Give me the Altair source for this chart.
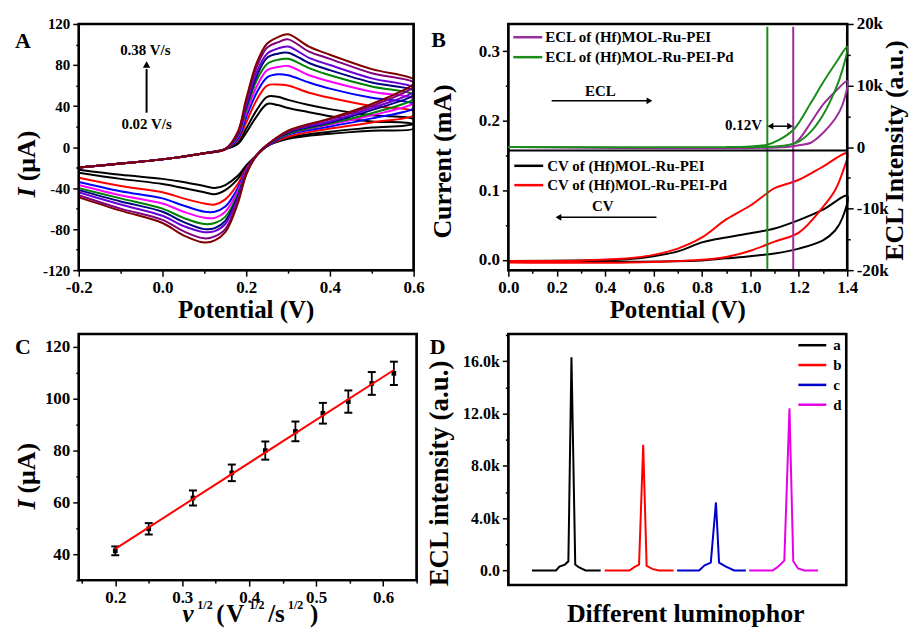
import altair as alt
import pandas as pd

FONT = "Liberation Serif"

# ---------------- Panel A : CV at different scan rates ----------------
A_E_FWD = [-0.2, -0.1, 0.0, 0.1, 0.15, 0.18, 0.2, 0.225, 0.25, 0.275, 0.3, 0.35, 0.4, 0.5, 0.6]
A_E_REV = [0.6, 0.5, 0.4, 0.3, 0.25, 0.225, 0.2, 0.18, 0.15, 0.125, 0.1, 0.05, 0.0, -0.1, -0.2]
A_COLORS = ["#000000", "#000000", "#ff0000", "#0000ff", "#ff00ff",
            "#008000", "#00007f", "#6a00d5", "#800080", "#800000"]
A_FWD = [
    [-20, -16, -12, -6, -2, 3, 14, 30, 42, 41, 38, 34, 30, 25, 22],
    [-20, -16, -12, -6, -2, 4, 18, 36, 49, 49, 46, 41, 37, 31, 27],
    [-20, -16, -12, -6, -2, 7, 24, 46, 60, 61, 60, 53, 48, 40, 35],
    [-20, -16, -12, -6, -2, 8, 29, 53, 68, 71, 70, 63, 57, 48, 42],
    [-20, -16, -12, -6, -2, 10, 33, 59, 75, 78, 79, 70, 64, 54, 47],
    [-20, -16, -12, -6, -2, 11, 36, 65, 81, 85, 86, 77, 70, 59, 51],
    [-20, -16, -12, -6, -2, 12, 39, 69, 87, 91, 92, 82, 75, 63, 55],
    [-20, -16, -12, -6, -2, 13, 41, 73, 91, 96, 98, 87, 80, 67, 58],
    [-20, -16, -12, -6, -2, 14, 45, 78, 97, 102, 105, 93, 86, 72, 63],
    [-20, -16, -12, -6, -2, 15, 47, 82, 101, 107, 110, 98, 90, 76, 66],
]
A_REV = [
    [18, 16, 13, 8, 1, -8, -18, -28, -37, -40, -38, -34, -31, -27, -22],
    [23, 19, 15, 9, 1, -8, -19, -31, -42, -46, -44, -40, -36, -31, -25],
    [31, 24, 18, 10, 1, -8, -21, -36, -51, -56, -55, -50, -44, -38, -30],
    [38, 28, 20, 12, 1, -8, -22, -40, -58, -63, -63, -57, -50, -43, -34],
    [43, 31, 22, 13, 2, -8, -23, -43, -63, -69, -69, -63, -55, -47, -37],
    [47, 33, 23, 13, 2, -8, -24, -46, -68, -74, -75, -69, -60, -50, -40],
    [51, 36, 24, 14, 2, -8, -25, -48, -72, -79, -80, -73, -63, -53, -42],
    [54, 38, 25, 15, 2, -8, -25, -50, -75, -82, -83, -77, -67, -56, -44],
    [59, 40, 27, 15, 2, -8, -26, -53, -80, -87, -89, -82, -71, -60, -47],
    [62, 42, 28, 16, 2, -8, -27, -55, -83, -91, -93, -86, -74, -62, -49],
]

# ---------------- Panel B : CV + ECL ----------------
B_CV_PEI_E = [0, 0.4, 0.8, 0.9, 1.0, 1.1, 1.2, 1.3, 1.35, 1.38, 1.4,
              1.3, 1.2, 1.1, 1.0, 0.9, 0.85, 0.8, 0.7, 0.6, 0.5, 0.3, 0.0]
B_CV_PEI_I = [-0.003, -0.003, -0.001, 0.002, 0.005, 0.009, 0.016, 0.028, 0.042, 0.06, 0.092,
              0.072, 0.057, 0.045, 0.038, 0.032, 0.029, 0.025, 0.012, 0.005, 0.001, -0.001, -0.002]
B_CV_PD_E = [0, 0.5, 0.8, 0.9, 1.0, 1.1, 1.2, 1.3, 1.35, 1.38, 1.4,
             1.3, 1.2, 1.1, 1.07, 1.0, 0.9, 0.8, 0.7, 0.6, 0.5, 0.3, 0.0]
B_CV_PD_I = [-0.004, -0.004, 0.0, 0.004, 0.013, 0.026, 0.039, 0.076, 0.1, 0.125, 0.153,
             0.134, 0.115, 0.103, 0.096, 0.078, 0.058, 0.032, 0.016, 0.007, 0.002, -0.001, -0.002]
B_ECL_PEI_E = [0, 1.15, 1.2, 1.25, 1.3, 1.35, 1.38, 1.4, 1.35, 1.3, 1.25, 1.2, 1.17]
B_ECL_PEI_V = [0, 0, 300, 700, 2300, 4600, 6800, 10700, 9000, 6900, 4000, 1200, 300]
B_ECL_PD_E = [0, 0.9, 1.07, 1.15, 1.2, 1.25, 1.3, 1.35, 1.38, 1.4,
              1.35, 1.3, 1.25, 1.18, 1.12, 1.07, 1.0, 0.9]
B_ECL_PD_V = [0, 0, 50, 300, 900, 2500, 5200, 9200, 12500, 16300,
              13500, 10500, 7200, 2900, 1200, 400, 100, 0]
B_SERIES_COLORS = {"cv_pei": "#000000", "cv_pd": "#ff0000",
                   "ecl_pei": "#9b2d9b", "ecl_pd": "#1a8c1a"}
B_VLINE_E = [1.07, 1.177]
B_VLINE_COLORS = ["#1a8c1a", "#9b2d9b"]

# ---------------- Panel C : peak current vs v^1/2 ----------------
C_X = [0.2, 0.25, 0.316, 0.374, 0.424, 0.469, 0.51, 0.548, 0.583, 0.616]
C_I = [41.3, 49.8, 61.7, 71.4, 80.0, 87.4, 94.4, 98.9, 105.9, 109.8]
C_ERR = [1.7, 2.2, 2.9, 3.2, 3.5, 3.8, 4.0, 4.3, 4.4, 4.5]

# ---------------- Panel D : ECL of different luminophors ----------------
D_X = {
    "a": [0.343, 0.693, 0.743, 0.823, 0.873, 0.918, 0.973, 1.023, 1.123, 1.343],
    "b": [1.401, 1.761, 1.831, 1.901, 1.961, 2.011, 2.101, 2.191, 2.401],
    "c": [2.454, 2.774, 2.854, 2.944, 3.019, 3.064, 3.164, 3.284, 3.454],
    "d": [3.503, 3.843, 3.913, 4.013, 4.088, 4.143, 4.213, 4.303, 4.503],
}
D_V = {
    "a": [0, 0, 300, 450, 700, 16300, 450, 250, 0, 0],
    "b": [0, 0, 250, 450, 9600, 350, 100, 0, 0],
    "c": [0, 0, 400, 600, 5200, 600, 300, 0, 0],
    "d": [0, 0, 250, 750, 12400, 700, 150, 0, 0],
}
D_COLORS = {"a": "#000000", "b": "#ff0000", "c": "#0000cc", "d": "#e600e6"}


# ---------------- helpers ----------------
def mk_axis(values, major_test, label_expr, size=16, orient=None, pad=3):
    kw = dict(values=values, labelExpr=label_expr, title=None, grid=False, domain=False,
              ticks=True, tickColor="black", tickWidth=1.5,
              tickSize={"condition": {"test": major_test, "value": 6}, "value": 3},
              labelFont=FONT, labelFontWeight="bold", labelFontSize=size, labelColor="black",
              labelPadding=pad, labelFlush=False, labelOverlap=False)
    if orient:
        kw["orient"] = orient
    return alt.Axis(**kw)


def ptxt(text, x, y, size=15, angle=0, align="center", baseline="middle", style="normal"):
    return alt.Chart(pd.DataFrame({"t": [text]})).mark_text(
        font=FONT, fontSize=size, fontWeight="bold", fontStyle=style, angle=angle,
        align=align, baseline=baseline, color="black"
    ).encode(x=alt.value(x), y=alt.value(y), text="t:N")


def pline(x1, x2, y, color, width=2.5):
    return alt.Chart(pd.DataFrame({"k": [0]})).mark_rule(color=color, strokeWidth=width).encode(
        x=alt.value(x1), x2=alt.value(x2), y=alt.value(y))


def box(xd, yd, xfield, yfield, xs, ys, xa, ya):
    """Closed black path through the four corners of the plot area (data coordinates)."""
    df = pd.DataFrame({
        xfield: [xd[0], xd[1], xd[1], xd[0], xd[0]],
        yfield: [yd[0], yd[0], yd[1], yd[1], yd[0]],
        "o": [0, 1, 2, 3, 4],
    })
    return alt.Chart(df).mark_line(color="black", strokeWidth=2.5, strokeJoin="miter",
                                   strokeCap="square").encode(
        x=alt.X(f"{xfield}:Q", scale=xs, axis=xa),
        y=alt.Y(f"{yfield}:Q", scale=ys, axis=ya),
        order="o:Q")


EVEN10 = "abs(round(datum.value*10)) % 2 == 0"
EVEN20 = "abs(round(datum.value*20)) % 2 == 0"
FMT1 = "(datum.value < 0 ? '-' : '') + format(abs(datum.value), '.1f')"

# ================= Panel A =================
rows = []
for ci in range(10):
    k = 0
    for e, v in zip(A_E_FWD, A_FWD[ci]):
        rows.append({"E": e, "I": v, "k": k, "curve": ci, "col": A_COLORS[ci]}); k += 1
    for e, v in zip(A_E_REV, A_REV[ci]):
        rows.append({"E": e, "I": v, "k": k, "curve": ci, "col": A_COLORS[ci]}); k += 1
dfA = pd.DataFrame(rows)

scA_x = alt.Scale(domain=[-0.2, 0.6], nice=False, zero=False)
scA_y = alt.Scale(domain=[-120, 120], nice=False, zero=False)
axA_x = mk_axis([round(-0.2 + 0.1 * i, 1) for i in range(9)], EVEN10,
                f"{EVEN10} ? {FMT1} : ''", size=17)
axA_y = mk_axis(list(range(-120, 121, 20)), "datum.value % 40 == 0",
                "datum.value % 40 == 0 ? (datum.value < 0 ? '-' : '') + abs(datum.value) : ''", size=15)

a_lines = alt.Chart(dfA).mark_line(strokeWidth=2, interpolate="catmull-rom", clip=True).encode(
    x=alt.X("E:Q", scale=scA_x, axis=axA_x),
    y=alt.Y("I:Q", scale=scA_y, axis=axA_y),
    color=alt.Color("col:N", scale=None),
    detail="curve:N",
    order="k:Q",
)
a_arrow = alt.Chart(pd.DataFrame({"E": [-0.038], "I": [33.5], "I2": [76]})).mark_rule(
    color="black", strokeWidth=2).encode(
    x=alt.X("E:Q", scale=scA_x, axis=axA_x), y=alt.Y("I:Q", scale=scA_y, axis=axA_y), y2="I2:Q")
a_head = alt.Chart(pd.DataFrame({"E": [-0.038], "I": [80.5]})).mark_point(
    shape="triangle-up", filled=True, size=55, color="black", opacity=1).encode(
    x=alt.X("E:Q", scale=scA_x, axis=axA_x), y=alt.Y("I:Q", scale=scA_y, axis=axA_y))
a_txt = alt.Chart(pd.DataFrame({"E": [-0.041, -0.038], "I": [95, 22], "t": ["0.38 V/s", "0.02 V/s"]})).mark_text(
    font=FONT, fontSize=15, fontWeight="bold", color="black").encode(
    x=alt.X("E:Q", scale=scA_x, axis=axA_x), y=alt.Y("I:Q", scale=scA_y, axis=axA_y), text="t:N")

panelA = alt.layer(
    a_lines, a_arrow, a_head, a_txt,
    box([-0.2, 0.6], [-120, 120], "E", "I", scA_x, scA_y, axA_x, axA_y),
    ptxt("A", -56, 17.5, size=22),
    ptxt("I", -52, 169, size=26, angle=270, style="italic"),
    ptxt("(μA)", -52, 132.5, size=26, angle=270),
    ptxt("Potential (V)", 168, 295, size=25, baseline="alphabetic"),
).properties(width=336, height=247)

# ================= Panel B =================
scB_x = alt.Scale(domain=[0, 1.4], nice=False, zero=False)
scB_yl = alt.Scale(domain=[-0.015, 0.339], nice=False, zero=False)
scB_yr = alt.Scale(domain=[-20000, 20000], nice=False, zero=False)
axB_x = mk_axis([round(0.1 * i, 1) for i in range(15)], EVEN10, f"{EVEN10} ? {FMT1} : ''", size=17)
axB_yl = mk_axis([0, 0.05, 0.1, 0.15, 0.2, 0.25, 0.3], EVEN20, f"{EVEN20} ? {FMT1} : ''", size=17)
axB_yr = mk_axis(list(range(-20000, 20001, 5000)), "datum.value % 10000 == 0",
                 "datum.value % 10000 != 0 ? '' : datum.value == 0 ? '0' : "
                 "(datum.value < 0 ? '-' : '') + abs(datum.value/1000) + 'k'",
                 size=17, orient="right")


def bx():
    return alt.X("E:Q", scale=scB_x, axis=axB_x)


def byl():
    return alt.Y("I:Q", scale=scB_yl, axis=axB_yl)


rows = []
for name, es, vs in [("cv_pei", B_CV_PEI_E, B_CV_PEI_I), ("cv_pd", B_CV_PD_E, B_CV_PD_I)]:
    for k, (e, v) in enumerate(zip(es, vs)):
        rows.append({"E": e, "I": v, "k": k, "s": name, "col": B_SERIES_COLORS[name]})
dfBcv = pd.DataFrame(rows)
rows = []
for name, es, vs in [("ecl_pei", B_ECL_PEI_E, B_ECL_PEI_V), ("ecl_pd", B_ECL_PD_E, B_ECL_PD_V)]:
    for k, (e, v) in enumerate(zip(es, vs)):
        rows.append({"E": e, "V": v, "k": k, "s": name, "col": B_SERIES_COLORS[name]})
dfBecl = pd.DataFrame(rows)

b_cv = alt.Chart(dfBcv).mark_line(strokeWidth=2, interpolate="catmull-rom").encode(
    x=bx(), y=byl(), color=alt.Color("col:N", scale=None), detail="s:N", order="k:Q")
b_vl = alt.Chart(pd.DataFrame({"E": B_VLINE_E, "I": [-0.014, -0.014], "I2": [0.335, 0.335],
                               "col": B_VLINE_COLORS})).mark_rule(strokeWidth=2).encode(
    x=bx(), y=byl(), y2="I2:Q", color=alt.Color("col:N", scale=None))
b_div = alt.Chart(pd.DataFrame({"E": [0], "E2": [1.4], "I": [0.157]})).mark_rule(
    strokeWidth=2, color="black").encode(x=bx(), x2="E2:Q", y=byl())
b_shafts = alt.Chart(pd.DataFrame({"E": [0.179, 0.205, 1.08], "E2": [0.585, 0.612, 1.167],
                                   "I": [0.2285, 0.061, 0.192]})).mark_rule(
    strokeWidth=1.5, color="black").encode(x=bx(), x2="E2:Q", y=byl())
b_heads = alt.Chart(pd.DataFrame({"E": [0.583, 0.207, 1.083, 1.164], "I": [0.2285, 0.061, 0.192, 0.192],
                                  "sh": ["triangle-right", "triangle-left", "triangle-left", "triangle-right"]})
                    ).mark_point(filled=True, size=45, color="black", opacity=1).encode(
    x=bx(), y=byl(), shape=alt.Shape("sh:N", scale=None))
b_txt = alt.Chart(pd.DataFrame({"E": [0.38, 0.39], "I": [0.243, 0.077], "t": ["ECL", "CV"]})).mark_text(
    font=FONT, fontSize=15, fontWeight="bold", color="black").encode(x=bx(), y=byl(), text="t:N")
b_txt2 = alt.Chart(pd.DataFrame({"E": [1.048], "I": [0.193], "t": ["0.12V"]})).mark_text(
    font=FONT, fontSize=15, fontWeight="bold", color="black", align="right").encode(
    x=bx(), y=byl(), text="t:N")

left_group = alt.layer(
    b_cv, b_vl, b_div, b_shafts, b_heads, b_txt, b_txt2,
    box([0, 1.4], [-0.015, 0.339], "E", "I", scB_x, scB_yl, axB_x, axB_yl),
    pline(5, 34, 13.3, B_SERIES_COLORS["ecl_pei"]),
    pline(5, 34, 33.3, B_SERIES_COLORS["ecl_pd"]),
    ptxt("ECL of (Hf)MOL-Ru-PEI", 37, 13.3, size=15, align="left"),
    ptxt("ECL of (Hf)MOL-Ru-PEI-Pd", 37, 33.3, size=15, align="left"),
    pline(6, 35, 142.3, B_SERIES_COLORS["cv_pei"]),
    pline(6, 35, 161.7, B_SERIES_COLORS["cv_pd"]),
    ptxt("CV of (Hf)MOL-Ru-PEI", 39, 142.3, size=15, align="left"),
    ptxt("CV of (Hf)MOL-Ru-PEI-Pd", 39, 161.7, size=15, align="left"),
    ptxt("B", -70, 16, size=22),
    ptxt("Current (mA)", -66, 138, size=26, angle=270),
    ptxt("ECL Intensity (a.u.)", 388, 127, size=26, angle=270),
    ptxt("Potential (V)", 170, 295, size=25, baseline="alphabetic"),
)
right_group = alt.Chart(dfBecl).mark_line(strokeWidth=2, interpolate="catmull-rom").encode(
    x=bx(), y=alt.Y("V:Q", scale=scB_yr, axis=axB_yr),
    color=alt.Color("col:N", scale=None), detail="s:N", order="k:Q")

panelB = alt.layer(left_group, right_group).resolve_scale(y="independent").properties(
    width=340, height=247)

# ================= Panel C =================
dfC = pd.DataFrame({"x": C_X, "I": C_I, "err": C_ERR})
scC_x = alt.Scale(domain=[0.1455, 0.65], nice=False, zero=False)
scC_y = alt.Scale(domain=[30, 125], nice=False, zero=False)
axC_x = mk_axis([round(0.15 + 0.05 * i, 2) for i in range(11)], EVEN20, f"{EVEN20} ? {FMT1} : ''", size=17)
axC_y = mk_axis(list(range(30, 121, 10)), "datum.value % 20 == 0",
                "datum.value % 20 == 0 ? '' + datum.value : ''", size=17)
cx = alt.X("x:Q", scale=scC_x, axis=axC_x)
cy = alt.Y("I:Q", scale=scC_y, axis=axC_y)
baseC = alt.Chart(dfC).transform_calculate(lo="datum.I - datum.err", hi="datum.I + datum.err")
c_bars = baseC.mark_rule(color="black", strokeWidth=1.8).encode(
    x=cx, y=alt.Y("lo:Q", scale=scC_y, axis=axC_y), y2="hi:Q")
c_cap_lo = baseC.mark_tick(orient="horizontal", size=8, thickness=2, color="black", opacity=1).encode(
    x=cx, y=alt.Y("lo:Q", scale=scC_y, axis=axC_y))
c_cap_hi = baseC.mark_tick(orient="horizontal", size=8, thickness=2, color="black", opacity=1).encode(
    x=cx, y=alt.Y("hi:Q", scale=scC_y, axis=axC_y))
c_pts = alt.Chart(dfC).mark_point(shape="square", filled=True, size=22, color="black", opacity=1).encode(
    x=cx, y=cy)
c_fit = alt.Chart(dfC).transform_regression("x", "I", extent=[0.2, 0.616]).mark_line(
    color="#ff0000", strokeWidth=2).encode(x=cx, y=cy)

panelC = alt.layer(
    c_bars, c_cap_lo, c_cap_hi, c_pts, c_fit,
    box([0.1455, 0.65], [30, 125], "x", "I", scC_x, scC_y, axC_x, axC_y),
    ptxt("C", -56, 13, size=22),
    ptxt("I", -52, 171, size=26, angle=270, style="italic"),
    ptxt("(μA)", -52, 134.7, size=26, angle=270),
    ptxt("v", 104, 289, size=25, align="left", baseline="alphabetic", style="italic"),
    ptxt("1/2", 119, 276, size=12, align="left", baseline="alphabetic"),
    ptxt("(", 138, 289, size=25, align="left", baseline="alphabetic"),
    ptxt("V", 148, 289, size=25, align="left", baseline="alphabetic"),
    ptxt("1/2", 171, 276, size=12, align="left", baseline="alphabetic"),
    ptxt("/s", 190, 289, size=25, align="left", baseline="alphabetic"),
    ptxt("1/2", 210, 276, size=12, align="left", baseline="alphabetic"),
    ptxt(")", 232, 289, size=25, align="left", baseline="alphabetic"),
).properties(width=339, height=247)

# ================= Panel D =================
rows = []
for s in ["a", "b", "c", "d"]:
    for k, (x, v) in enumerate(zip(D_X[s], D_V[s])):
        rows.append({"x": x, "v": v, "k": k, "s": s, "col": D_COLORS[s]})
dfD = pd.DataFrame(rows)
scD_x = alt.Scale(domain=[0, 4.913], nice=False, zero=False)
scD_y = alt.Scale(domain=[-1120, 18080], nice=False, zero=False)
axD_y = mk_axis(list(range(0, 18001, 2000)), "datum.value % 4000 == 0",
                "datum.value % 4000 != 0 ? '' : datum.value == 0 ? '0.0' : format(datum.value/1000, '.1f') + 'k'",
                size=16)
d_lines = alt.Chart(dfD).mark_line(strokeWidth=2).encode(
    x=alt.X("x:Q", scale=scD_x, axis=None),
    y=alt.Y("v:Q", scale=scD_y, axis=axD_y),
    color=alt.Color("col:N", scale=None), detail="s:N", order="k:Q")
d_leg = []
for i, s in enumerate(["a", "b", "c", "d"]):
    yy = 11.3 + 19.9 * i
    d_leg.append(pline(291, 319, yy, D_COLORS[s]))
    d_leg.append(ptxt(s, 326, yy, size=15, align="left"))

panelD = alt.layer(
    d_lines,
    box([0, 4.913], [-1120, 18080], "x", "v", scD_x, scD_y, None, axD_y),
    *d_leg,
    ptxt("D", -71, 13, size=22),
    ptxt("ECL intensity (a.u.)", -69, 140, size=27, angle=270),
    ptxt("Different luminophor", 178, 289, size=26, baseline="alphabetic"),
).properties(width=339, height=252)

chart = alt.concat(panelA, panelB, panelC, panelD, columns=2,
                   spacing={"row": 64, "column": 92}, bounds="flush").properties(
    padding={"left": 5, "top": 5, "right": 0, "bottom": 0}, background="white"
).configure_view(stroke="black", strokeWidth=2)

chart.save("out.html", embed_options={"renderer": "svg", "actions": False})
